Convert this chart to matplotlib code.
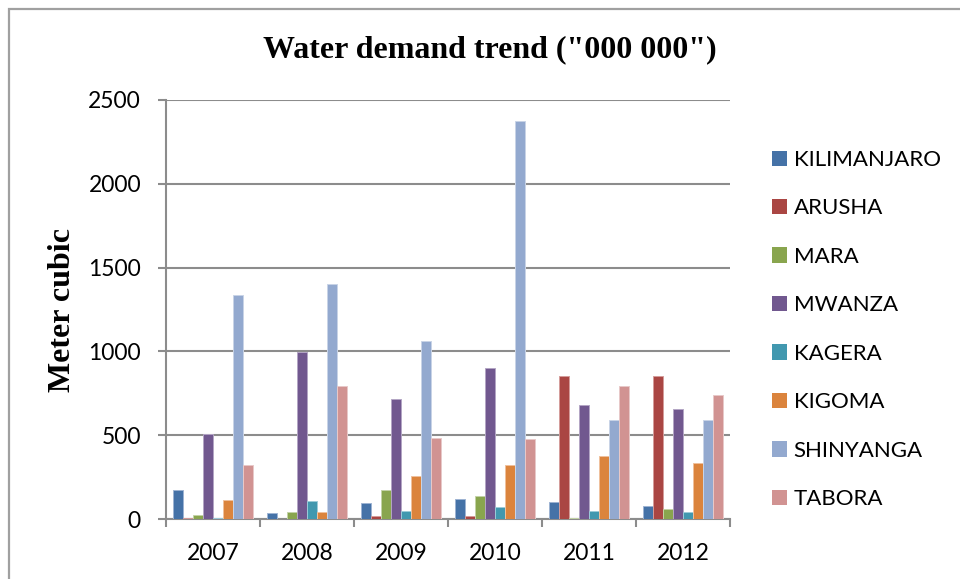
import matplotlib
matplotlib.use("Agg")
import matplotlib.pyplot as plt
from matplotlib.patches import Rectangle
import numpy as np

years = ["2007", "2008", "2009", "2010", "2011", "2012"]
regions = ["KILIMANJARO", "ARUSHA", "MARA", "MWANZA", "KAGERA", "KIGOMA", "SHINYANGA", "TABORA"]

kilimanjaro = [173, 36, 98, 122, 104, 78]
arusha = [8, 2, 16, 18, 851, 851]
mara = [26, 40, 175, 137, 6, 60]
mwanza = [508, 996, 717, 898, 683, 659]
kagera = [6, 110, 46, 74, 50, 40]
kigoma = [115, 42, 259, 325, 375, 337]
shinyanga = [1337, 1400, 1064, 2372, 588, 588]
tabora = [325, 791, 484, 480, 795, 737]

series = [kilimanjaro, arusha, mara, mwanza, kagera, kigoma, shinyanga, tabora]
colors = ["#4572A7", "#AA4643", "#89A54E", "#71588F", "#4198AF", "#DB843D", "#93A9CF", "#D19392"]
edges = ["#9DB3D3", "#D49C9A", "#C3D3A6", "#B3A5C4", "#9CCBD8", "#F0C09C", "#C9D4E7", "#E8C9C8"]

TICK_FONT = "Lato"
SERIF = "Liberation Serif"
GRID = "#8C8C8C"

fig = plt.figure(figsize=(9.6, 5.79), dpi=100)
fig.patches.append(Rectangle((9 / 960, -0.2), 1.2, 1 - 9 / 579 + 0.2, transform=fig.transFigure,
                             fill=False, edgecolor="#A0A0A0", linewidth=1.6, zorder=0))

ax = fig.add_axes([166 / 960, 1 - 519 / 579, (730 - 166) / 960, (519 - 100) / 579])

x = np.arange(len(years))
w = 0.106
for i, (vals, c, e) in enumerate(zip(series, colors, edges)):
    ax.bar(x + (i - 3.5) * w, vals, width=w, color=c, edgecolor=e, linewidth=0.7,
           label=regions[i], zorder=3)

ax.set_xlim(-0.5, len(years) - 0.5)
ax.set_ylim(0, 2500)
ax.set_yticks(np.arange(0, 2501, 500))
ax.yaxis.grid(True, color=GRID, linewidth=1.5, zorder=0)
ax.set_axisbelow(True)

ax.set_xticks(x)
ax.set_xticklabels(years)
ax.set_xticks(np.arange(-0.5, len(years)), minor=True)
ax.tick_params(axis="x", which="major", length=0, pad=17, labelsize=16.5)
ax.tick_params(axis="x", which="minor", length=6, width=1.5, color=GRID, direction="out")
ax.tick_params(axis="y", length=6, width=1.5, color=GRID, direction="out", pad=12, labelsize=16.5)
for lab in ax.get_xticklabels() + ax.get_yticklabels():
    lab.set_fontfamily(TICK_FONT)

for s in ["top", "right"]:
    ax.spines[s].set_visible(False)
for s in ["left", "bottom"]:
    ax.spines[s].set_color(GRID)
    ax.spines[s].set_linewidth(1.5)

fig.text(490 / 960, 1 - 50 / 579, 'Water demand trend ("000 000")', ha="center", va="center",
         fontsize=23, fontweight="bold", family=SERIF)
fig.text(62 / 960, 1 - 310 / 579, "Meter cubic", ha="center", va="center", rotation=90,
         fontsize=23, fontweight="bold", family=SERIF)

leg = fig.legend(loc="upper left", bbox_to_anchor=(772 / 960, 1 - 150 / 579),
                 frameon=False, borderpad=0, borderaxespad=0, handlelength=0.68,
                 handleheight=0.68, handletextpad=0.3, labelspacing=1.28,
                 prop={"family": TICK_FONT, "size": 16})
for h in leg.legend_handles:
    h.set_edgecolor("none")

fig.savefig("out.png", dpi=100)
